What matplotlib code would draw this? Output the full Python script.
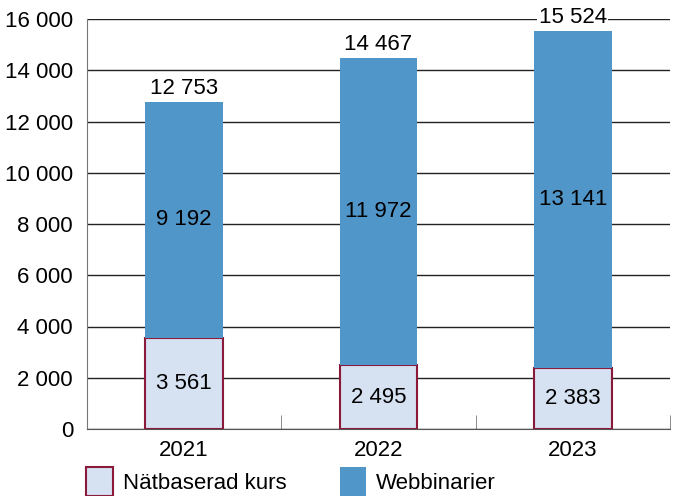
import matplotlib.pyplot as plt
import numpy as np

plt.rcParams['font.family'] = ['Liberation Sans', 'DejaVu Sans']
plt.rcParams['font.size'] = 16

years = ['2021', '2022', '2023']
natbaserad = [3561, 2495, 2383]
webbinarier = [9192, 11972, 13141]
totals = [12753, 14467, 15524]


def fmt(v):
    return f'{v:,}'.replace(',', ' ')


fig = plt.figure(figsize=(6.75, 4.96), dpi=100)
ax = fig.add_axes([87 / 675, 1 - 429 / 496, 583 / 675, 410 / 496])

x = np.arange(len(years))
w = 0.4
b1 = ax.bar(x, natbaserad, w, color='#d6e1f2', edgecolor='#8b1a3a', linewidth=1.5,
            label='Nätbaserad kurs', zorder=3)
b2 = ax.bar(x, webbinarier, w, bottom=natbaserad, color='#5196c8', label='Webbinarier', zorder=3)

for i in range(len(years)):
    ax.text(x[i], natbaserad[i] / 2, fmt(natbaserad[i]), ha='center', va='center', zorder=4)
    ax.text(x[i], natbaserad[i] + webbinarier[i] / 2, fmt(webbinarier[i]),
            ha='center', va='center', zorder=4)
    ax.text(x[i], totals[i] + 120, fmt(totals[i]), ha='center', va='bottom', zorder=4,
            bbox=dict(facecolor='white', edgecolor='none', pad=1))

ax.set_ylim(0, 16000)
ax.set_xlim(-0.5, 2.5)
ax.set_yticks(range(0, 16001, 2000))
ax.set_yticklabels([fmt(v) for v in range(0, 16001, 2000)])
ax.set_xticks(x)
ax.set_xticklabels(years)
ax.set_xticks([0.5, 1.5, 2.5], minor=True)
ax.tick_params(axis='x', which='major', length=0, pad=8)
ax.tick_params(axis='x', which='minor', direction='in', length=10, color='#777777')
ax.tick_params(axis='y', length=0, pad=10)
ax.yaxis.grid(True, color='#222222', linewidth=1, zorder=0)
ax.set_axisbelow(True)

for s in ['top', 'right']:
    ax.spines[s].set_visible(False)
ax.spines['left'].set_color('#777777')
ax.spines['bottom'].set_color('#555555')

fig.legend(handles=[b1, b2], loc='upper left', bbox_to_anchor=(86 / 675, 1 - 467 / 496),
           ncol=2, frameon=False, handlelength=1.2, handleheight=1.6, handletextpad=0.45,
           columnspacing=2.4, borderaxespad=0, borderpad=0)

fig.savefig('out.png', dpi=100)
